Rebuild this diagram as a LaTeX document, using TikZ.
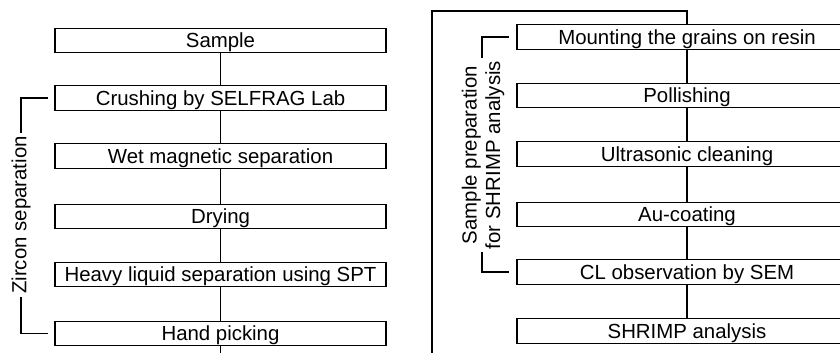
\documentclass[tikz,border=0pt]{standalone}
\usepackage{fontspec}
\setmainfont{Liberation Sans}
\begin{document}
\begin{tikzpicture}[x=1pt,y=-1pt,
  stepbox/.style={draw, line width=1.4pt, inner sep=0pt, minimum height=24.5pt,
    font=\fontsize{20.4}{23.5}\selectfont, text height=14.6pt, text depth=0pt},
  lbox/.style={stepbox, minimum width=331pt},
  rbox/.style={stepbox, minimum width=340pt},
  conn/.style={line width=1.4pt},
  brlabel/.style={fill=white, inner sep=3pt, rotate=90, align=center,
    font=\fontsize{20.4}{23.5}\selectfont}]
\useasboundingbox (0,0) rectangle (840,353);
\clip (0,0) rectangle (840,353);
% left column
\node[lbox] (sample) at (220.5,40.5) {Sample};
\node[lbox] (crush) at (220.5,98) {Crushing by SELFRAG Lab};
\node[lbox] (wet) at (220.5,156) {Wet magnetic separation};
\node[lbox] (dry) at (220.5,216.5) {Drying};
\node[lbox] (heavy) at (220.5,274.5) {Heavy liquid separation using SPT};
\node[lbox] (hand) at (220.5,333.5) {Hand picking};
\coordinate (lbot) at (220.5,356);
\draw[conn] (sample) -- (crush);
\draw[conn] (crush) -- (wet);
\draw[conn] (wet) -- (dry);
\draw[conn] (dry) -- (heavy);
\draw[conn] (heavy) -- (hand);
\draw[conn] (hand) -- (lbot);
% left bracket
\coordinate (lbt) at (48,98);
\coordinate (lbb) at (48,333.5);
\draw[conn] (lbt) -- ++(-27,0) |- (lbb);
\node[brlabel] (zircon) at (21,215) {Zircon separation};
% right column
\node[rbox] (mount) at (687,37) {Mounting the grains on resin};
\node[rbox] (pol) at (687,95.5) {Pollishing};
\node[rbox] (ultra) at (687,154) {Ultrasonic cleaning};
\node[rbox] (au) at (687,214.5) {Au-coating};
\node[rbox] (cl) at (687,272) {CL observation by SEM};
\node[rbox] (shrimp) at (687,331) {SHRIMP analysis};
\coordinate (fbot) at (432,356);
\coordinate (ftop) at (687,11);
\draw[conn] (fbot) |- (ftop) -- (mount);
\draw[conn] (mount) -- (pol);
\draw[conn] (pol) -- (ultra);
\draw[conn] (ultra) -- (au);
\draw[conn] (au) -- (cl);
\draw[conn] (cl) -- (shrimp);
% right bracket
\coordinate (rbt) at (509,37);
\coordinate (rbb) at (509,272);
\draw[conn] (rbt) -- ++(-27,0) |- (rbb);
\node[brlabel] (prep) at (483,155) {Sample preparation\\for SHRIMP analysis};
\end{tikzpicture}
\end{document}
